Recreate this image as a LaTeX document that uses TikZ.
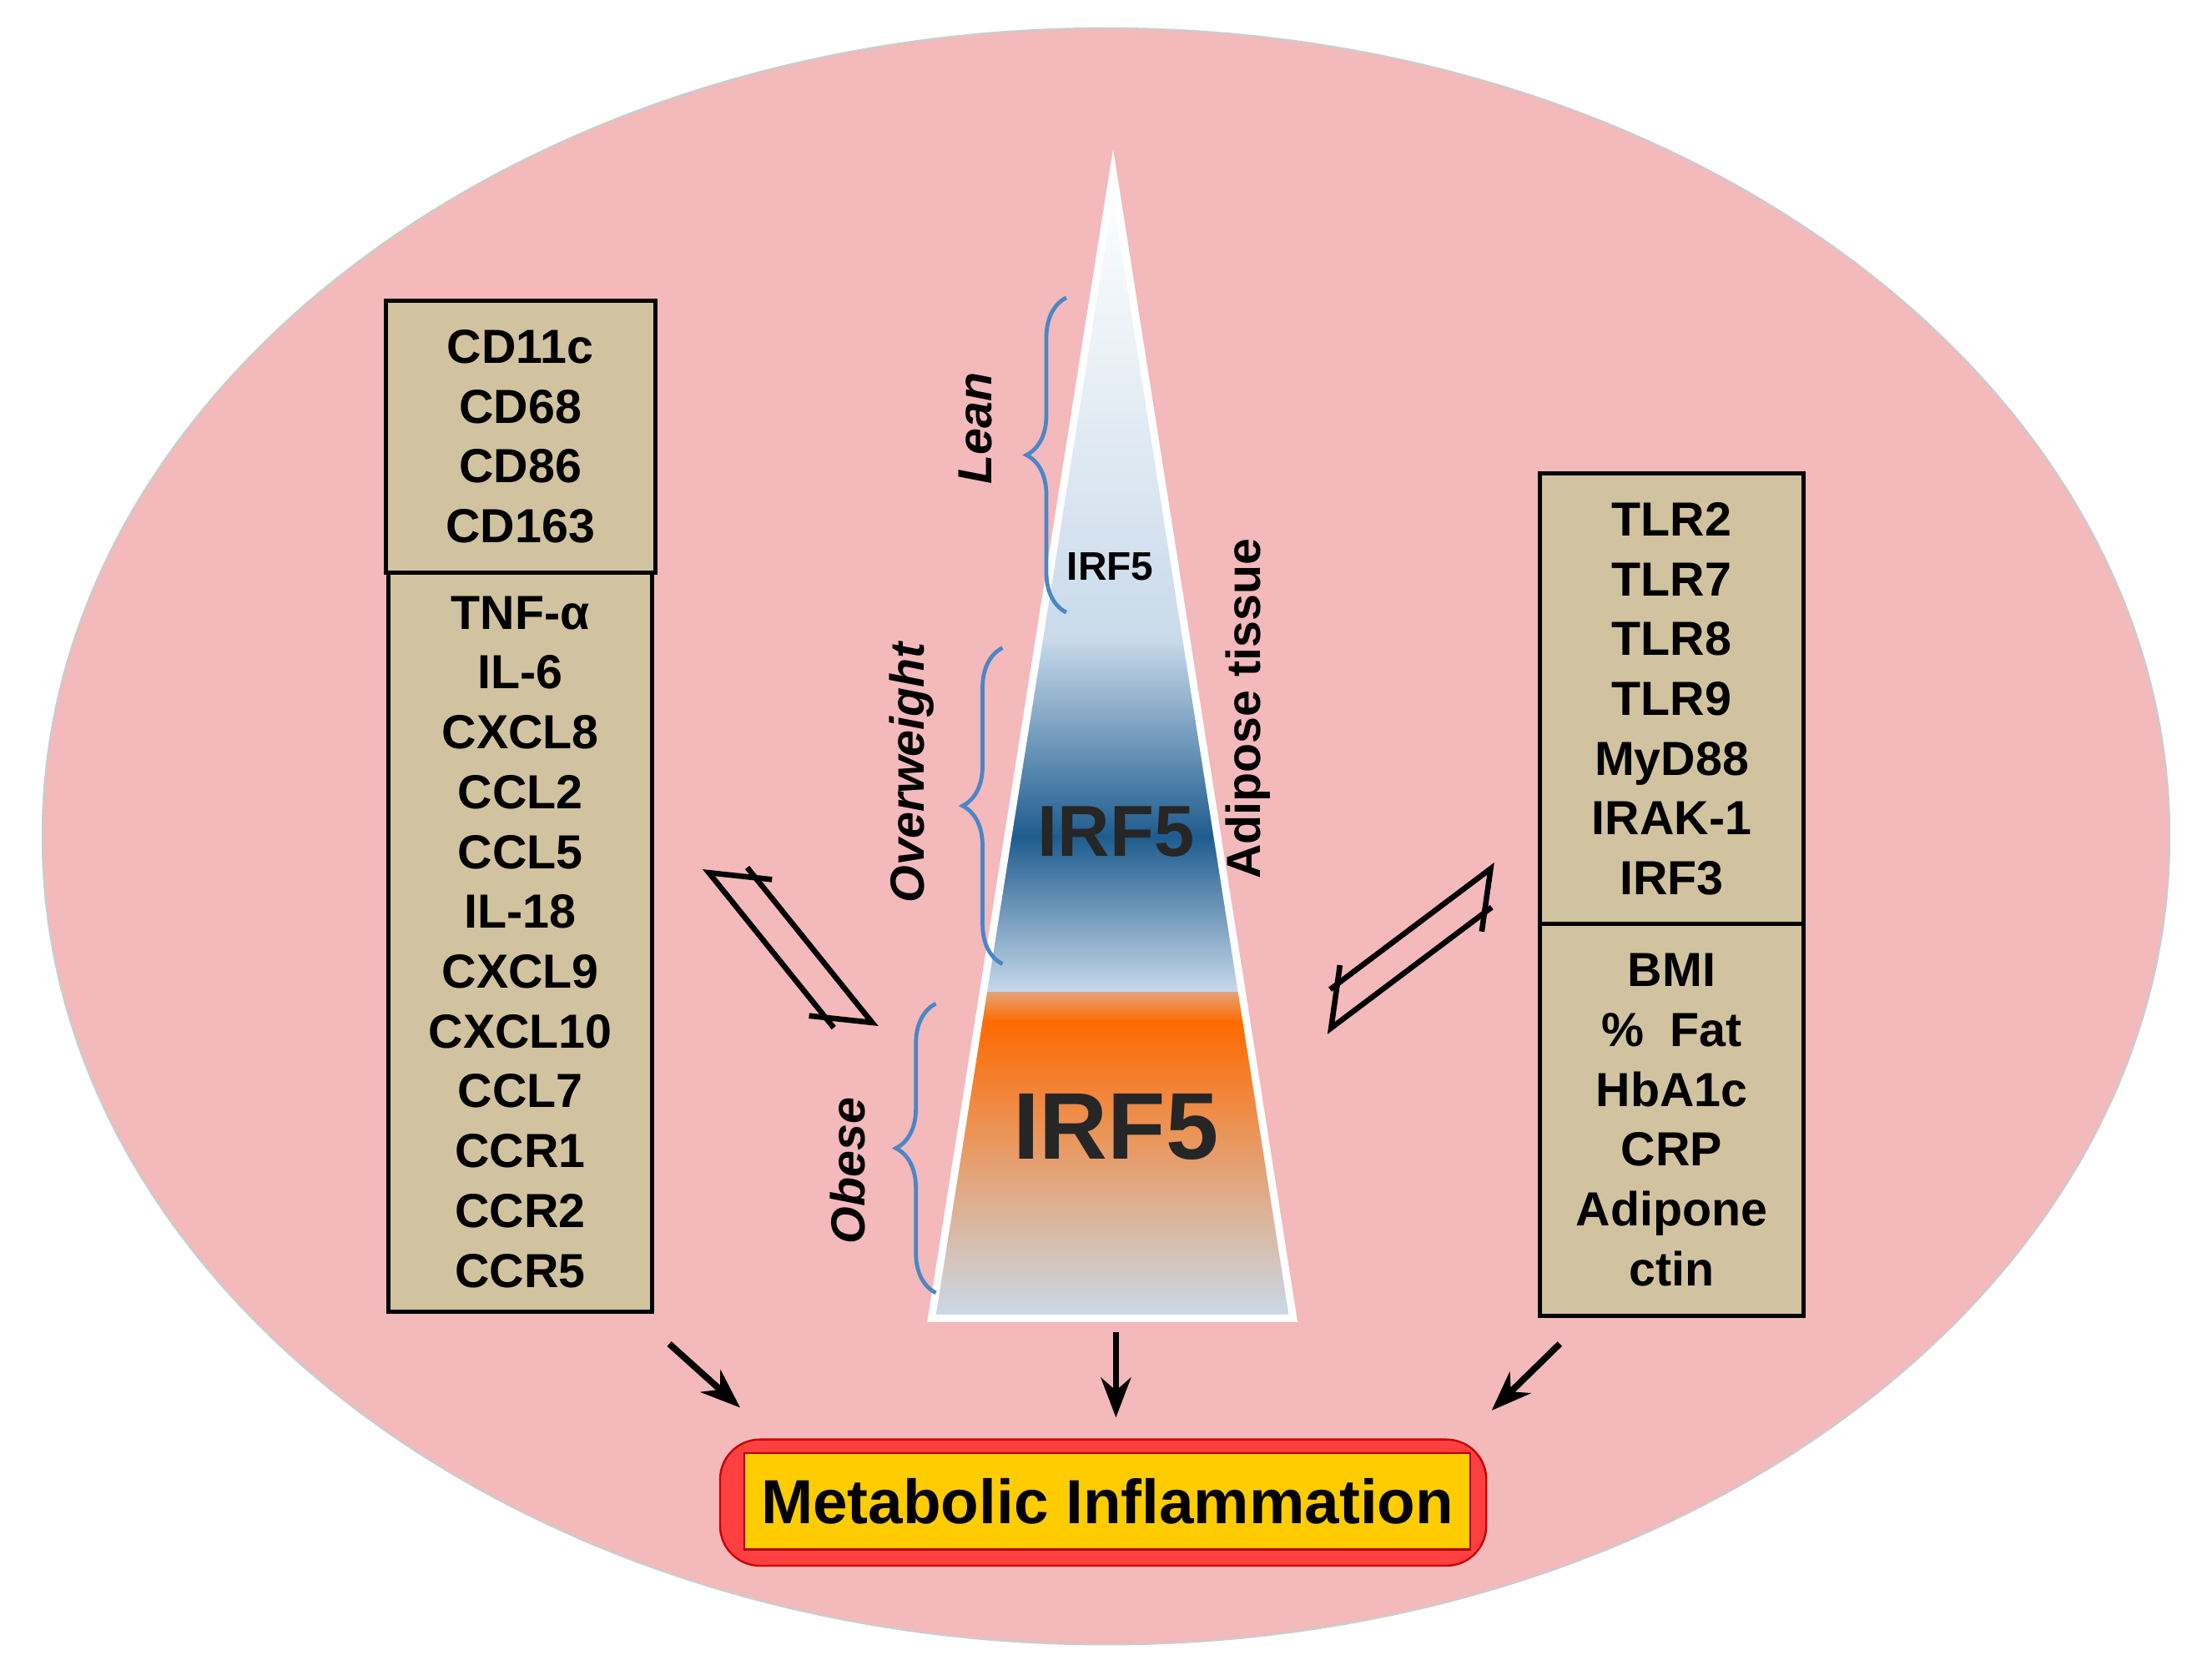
\documentclass[tikz,border=0pt]{standalone}
\usepackage{fontspec}
\setmainfont{Liberation Sans}
\usetikzlibrary{arrows.meta,decorations.pathreplacing}
\definecolor{bgpink}{HTML}{F4B9BB}
\definecolor{tan}{HTML}{D1C39F}
\definecolor{deepblue}{HTML}{1E5C8E}
\definecolor{paleblue}{HTML}{C9DAEA}
\definecolor{orng}{HTML}{FF6A00}
\definecolor{bracecol}{HTML}{4A86C8}
\tikzset{
  box/.style={draw=black,thick,fill=tan,align=center,font=\fontsize{9.6}{12}\selectfont\bfseries,inner sep=0pt},
  brc/.style={decorate,decoration={brace,amplitude=8pt,mirror},draw=bracecol,thick},
  grp/.style={font=\fontsize{9.6}{12}\selectfont\bfseries\itshape,rotate=90},
  eqarr/.style={line width=1.1pt,-{Straight Barb[harpoon,swap,length=9pt]}},
  down/.style={line width=1.3pt,-{Stealth[length=8pt]}}
}
\begin{document}
\begin{tikzpicture}[x=0.01cm,y=-0.01cm]
\useasboundingbox (0,0) rectangle (1560,1178);
\fill[white] (0,0) rectangle (1560,1178);
\draw[fill=bgpink,draw=gray!40] (780,590) ellipse (750 and 570);
% left boxes
\node[box,minimum width=1.9cm,minimum height=1.92cm] (markers) at (367,308) {CD11c\\CD68\\CD86\\CD163};
\node[box,minimum width=1.86cm,minimum height=5.21cm] (cytokines) at (367,664.5) {TNF-α\\IL-6\\CXCL8\\CCL2\\CCL5\\IL-18\\CXCL9\\CXCL10\\CCL7\\CCR1\\CCR2\\CCR5};
% right boxes
\node[box,minimum width=1.86cm,minimum height=3.18cm] (tlr) at (1179,493) {TLR2\\TLR7\\TLR8\\TLR9\\MyD88\\IRAK-1\\IRF3};
\node[box,minimum width=1.86cm,minimum height=2.76cm] (clinical) at (1179,790) {BMI\\\%~~Fat\\HbA1c\\CRP\\Adipone\\ctin};
% triangle
\coordinate (apex) at (785,122);
\coordinate (bl) at (657,930);
\coordinate (br) at (912,930);
\begin{scope}
\clip (apex) -- (br) -- (bl) -- cycle;
\shade[top color=white,bottom color=paleblue] (600,120) rectangle (960,451);
\shade[top color=paleblue,bottom color=deepblue] (600,450) rectangle (960,591);
\shade[top color=deepblue,bottom color=paleblue] (600,590) rectangle (960,701);
\shade[top color=paleblue!50!orng,bottom color=orng] (600,700) rectangle (960,721);
\shade[top color=orng,bottom color=paleblue] (600,720) rectangle (960,930);
\end{scope}
\draw[white,line width=1.5pt] (apex) -- (br) -- (bl) -- cycle;
\node[font=\fontsize{8}{10}\selectfont\bfseries] (irfS) at (783,400) {IRF5};
\node[font=\fontsize{14.5}{17}\selectfont\bfseries,text=black!85] (irfM) at (787,587) {IRF5};
\node[font=\fontsize{19}{22}\selectfont\bfseries,text=black!85] (irfL) at (787,795) {IRF5};
% braces
\draw[brc] (752,210) -- (752,432);
\draw[brc] (707,457) -- (707,680);
\draw[brc] (660,708) -- (660,912);
\node[grp] (lean) at (688,302) {Lean};
\node[grp] (over) at (643,545) {Overweight};
\node[grp] (obese) at (598,826) {Obese};
\node[font=\fontsize{9.6}{12}\selectfont\bfseries,rotate=90] (adipose) at (880,500) {Adipose tissue};
% equilibrium arrows
\coordinate (l1s) at (588,725); \coordinate (l1e) at (497,612);
\coordinate (l2s) at (527,612); \coordinate (l2e) at (618,725);
\coordinate (r1s) at (938,698); \coordinate (r1e) at (1055,610);
\coordinate (r2s) at (1052,640); \coordinate (r2e) at (935,728);
\draw[eqarr] (l1s) -- (l1e);
\draw[eqarr] (l2s) -- (l2e);
\draw[eqarr] (r1s) -- (r1e);
\draw[eqarr] (r2s) -- (r2e);
% outcome
\node[draw=red!80!black,fill=red!75!white,rounded corners=8pt,minimum width=5.4cm,minimum height=0.89cm] (outer) at (778,1060) {};
\node[draw=red!70!black,fill=orange!40!yellow,minimum width=5.02cm,minimum height=0.68cm,font=\fontsize{12.5}{15}\selectfont\bfseries] (infl) at (781,1059) {Metabolic Inflammation};
\coordinate (d1) at (472,948); \coordinate (d2) at (787,940); \coordinate (d3) at (1100,948);
\draw[down] (d1) -- (522,993);
\draw[down] (d2) -- (787,1000);
\draw[down] (d3) -- (1052,995);
\end{tikzpicture}
\end{document}
